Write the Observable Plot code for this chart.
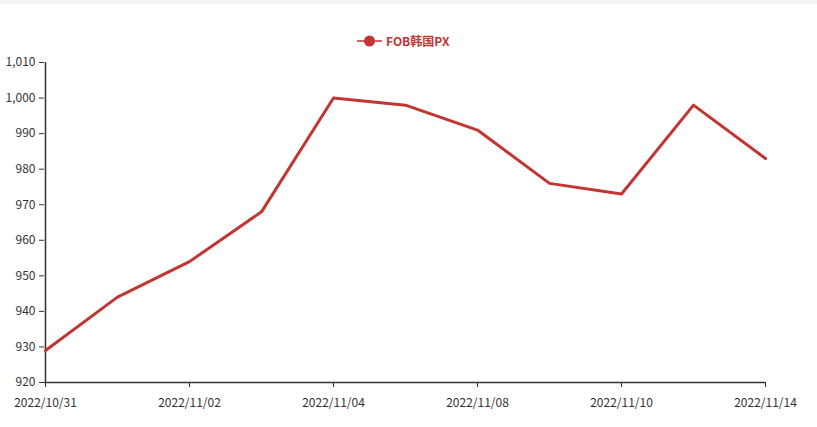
<!DOCTYPE html>
<html><head><meta charset="utf-8">
<script src="https://cdn.jsdelivr.net/npm/d3@7"></script>
<script src="https://cdn.jsdelivr.net/npm/@observablehq/plot@0.6"></script>
<style>
body{margin:0;background:#fff;font-family:"Noto Sans CJK SC","DejaVu Sans",sans-serif;}
#top{height:4px;background:#f2f2f2;}
#legend{height:48px;position:relative;}
#legend .item{position:absolute;left:357px;top:28px;display:flex;align-items:center;font-size:12px;font-weight:bold;color:#c23531;}
#legend svg{margin-right:4px;}
</style></head><body>
<div id="top"></div>
<div id="legend"><div class="item"><svg width="25" height="14"><line x1="0" y1="7" x2="25" y2="7" stroke="#c23531" stroke-width="1.5"/><circle cx="12.5" cy="7" r="5.5" fill="#c23531"/></svg><span>FOB韩国PX</span></div></div>
<div id="chart"></div>
<script>
const dates = ["2022/10/31","2022/11/01","2022/11/02","2022/11/03","2022/11/04","2022/11/07","2022/11/08","2022/11/09","2022/11/10","2022/11/11","2022/11/14"];
const values = [929, 944, 954, 968, 1000, 998, 991, 976, 973, 998, 983];
const tickDates = ["2022/10/31","2022/11/02","2022/11/04","2022/11/08","2022/11/10","2022/11/14"];
const yTicks = [920, 930, 940, 950, 960, 970, 980, 990, 1000, 1010];
const data = dates.map((d, i) => ({date: d, value: values[i]}));
const fmt = d3.format(",");
const chart = Plot.plot({
  width: 817, height: 375,
  marginTop: 10, marginBottom: 45, marginLeft: 44, marginRight: 52,
  style: {fontFamily: '"Noto Sans CJK SC","DejaVu Sans",sans-serif', fontSize: "12px", color: "#333", background: "#fff"},
  x: {type: "point", domain: dates, padding: 0, label: null},
  y: {domain: [920, 1010], label: null},
  marks: [
    Plot.axisY({ticks: yTicks, tickFormat: fmt, tickSize: 5, tickPadding: 4, fontSize: 12, color: "#333", stroke: "#333"}),
    Plot.axisX({ticks: tickDates, tickSize: 5, tickPadding: 11, fontSize: 12, color: "#333", stroke: "#333"}),
    Plot.ruleX([dates[0]], {stroke: "#333", strokeWidth: 1.5}),
    Plot.ruleY([920], {stroke: "#333", strokeWidth: 1.5}),
    Plot.line(data, {x: "date", y: "value", stroke: "#c23531", strokeWidth: 3})
  ]
});
document.getElementById("chart").appendChild(chart);
</script>
</body></html>
